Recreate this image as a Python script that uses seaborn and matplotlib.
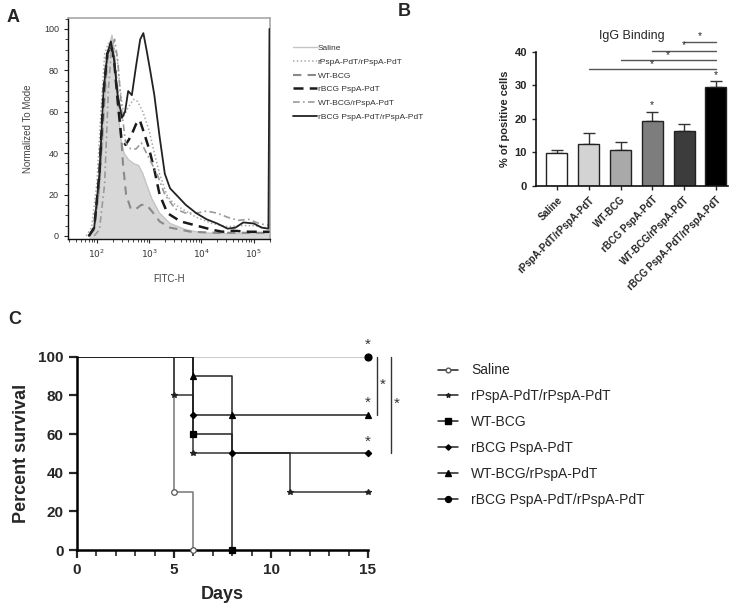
import numpy as np
import pandas as pd
import matplotlib
matplotlib.use("Agg")
import matplotlib.pyplot as plt
from matplotlib.lines import Line2D
from matplotlib.ticker import MultipleLocator
import seaborn as sns

sns.set_theme(style="ticks")
plt.rcParams['font.family'] = ['Liberation Sans', 'DejaVu Sans']

# ---------------- Panel A data (log10 FITC-H, % of mode) ----------------
a_groups = ["Saline", "rPspA-PdT/rPspA-PdT", "WT-BCG", "rBCG PspA-PdT",
            "WT-BCG/rPspA-PdT", "rBCG PspA-PdT/rPspA-PdT"]
saline_x = [1.85, 1.95, 2.05, 2.12, 2.18, 2.24, 2.29, 2.33, 2.38, 2.45, 2.52, 2.6, 2.7, 2.8, 2.88, 2.95, 3.05, 3.2, 3.4, 3.7, 4.0, 4.5, 5.0, 5.3]
saline_y = [0, 3, 20, 45, 75, 92, 97, 90, 70, 48, 40, 37, 35, 34, 30, 25, 18, 11, 6, 3, 1.5, 1, 1, 1]
rpspa_x = [1.8, 1.9, 2.0, 2.08, 2.15, 2.22, 2.3, 2.38, 2.45, 2.52, 2.6, 2.7, 2.78, 2.88, 3.0, 3.1, 3.2, 3.35, 3.5, 3.7, 3.9, 4.2, 4.5, 4.8, 5.0, 5.2, 5.3]
rpspa_y = [0, 4, 25, 60, 88, 93, 92, 88, 70, 58, 62, 66, 65, 60, 51, 40, 30, 19, 15, 12, 9, 6, 4.5, 5, 5, 4, 4]
wtbcg_x = [1.85, 1.95, 2.05, 2.13, 2.2, 2.27, 2.32, 2.38, 2.45, 2.5, 2.56, 2.65, 2.75, 2.85, 2.95, 3.05, 3.2, 3.4, 3.8, 4.3, 5.3]
wtbcg_y = [0, 3, 25, 60, 85, 92, 90, 75, 55, 35, 20, 13, 13, 15, 15, 12, 7, 4, 2, 1.5, 1.5]
rbcg_x = [1.85, 1.95, 2.05, 2.13, 2.2, 2.27, 2.33, 2.4, 2.47, 2.55, 2.65, 2.75, 2.82, 2.9, 3.0, 3.1, 3.2, 3.35, 3.6, 3.9, 4.2, 4.4, 4.6, 4.9, 5.3]
rbcg_y = [0, 4, 30, 70, 88, 92, 85, 65, 47, 44, 48, 54, 56, 50, 42, 32, 20, 11, 7, 5, 3, 2, 2.5, 2, 2]
wtr_x = [1.95, 2.05, 2.15, 2.22, 2.28, 2.34, 2.4, 2.47, 2.55, 2.65, 2.75, 2.85, 2.95, 3.05, 3.15, 3.3, 3.5, 3.7, 3.9, 4.1, 4.3, 4.5, 4.7, 4.9, 5.1, 5.3]
wtr_y = [0, 3, 25, 70, 90, 95, 85, 62, 45, 42, 42, 45, 40, 35, 30, 20, 13, 11, 11, 12, 11, 9, 7.5, 8, 6, 5]
rbr_x = [1.85, 1.95, 2.05, 2.13, 2.2, 2.27, 2.33, 2.4, 2.48, 2.54, 2.6, 2.67, 2.75, 2.83, 2.89, 2.95, 3.02, 3.1, 3.2, 3.3, 3.4, 3.55, 3.7, 3.9, 4.1, 4.3, 4.5, 4.65, 4.8, 5.0, 5.15, 5.28, 5.3]
rbr_y = [0, 4, 30, 70, 88, 94, 85, 68, 57, 60, 70, 68, 82, 95, 98, 90, 80, 68, 48, 30, 23, 19, 15, 11, 8, 6, 3.5, 4, 6.5, 6, 4, 3.5, 100]
a_xticks = [2, 3, 4, 5]

# ---------------- Panel B data ----------------
b_groups = ["Saline", "rPspA-PdT/rPspA-PdT", "WT-BCG", "rBCG PspA-PdT",
            "WT-BCG/rPspA-PdT", "rBCG PspA-PdT/rPspA-PdT"]
b_means = [9.8, 12.4, 10.6, 19.4, 16.3, 29.6]
b_sd = [0.8, 3.4, 2.3, 2.7, 2.2, 1.6]
b_sig_from = [1, 2, 3, 4]
b_sig_y = [34.7, 37.4, 40.2, 43.0]

# ---------------- Panel C data ----------------
c_groups = ["Saline", "rPspA-PdT/rPspA-PdT", "WT-BCG", "rBCG PspA-PdT",
            "WT-BCG/rPspA-PdT", "rBCG PspA-PdT/rPspA-PdT"]
c_saline_t = [0, 5, 6];          c_saline_s = [100, 30, 0]
c_rpspa_t = [0, 5, 6, 11, 15];   c_rpspa_s = [100, 80, 50, 30, 30]
c_wtbcg_t = [0, 6, 8];           c_wtbcg_s = [100, 60, 0]
c_rbcg_t = [0, 6, 8, 15];        c_rbcg_s = [100, 70, 50, 50]
c_wtr_t = [0, 6, 8, 15];         c_wtr_s = [100, 90, 70, 70]
c_rbr_t = [0, 15];               c_rbr_s = [100, 100]

fig = plt.figure(figsize=(7.42, 6.09), dpi=100)

# =============== Panel A ===============
axA = fig.add_axes([68/742, 1-239/609, 202/742, 221/609])
a_x = [saline_x, rpspa_x, wtbcg_x, rbcg_x, wtr_x, rbr_x]
a_y = [saline_y, rpspa_y, wtbcg_y, rbcg_y, wtr_y, rbr_y]
a_col = ["#c4c4c4", "#a8a8a8", "#8a8a8a", "#1a1a1a", "#9a9a9a", "#222222"]
a_ls = ["-", (0, (1, 1.5)), (0, (4, 3)), (0, (4, 2.5)), (0, (4, 2, 1, 2)), "-"]
a_lw = [1.0, 1.1, 1.5, 1.8, 1.2, 1.3]
axA.fill_between(10**np.array(saline_x), saline_y, -2, color="#d8d8d8", lw=0, zorder=1)
for g, xs, ys, c, ls, lw in zip(a_groups, a_x, a_y, a_col, a_ls, a_lw):
    df = pd.DataFrame({"x": 10**np.array(xs), "y": ys})
    sns.lineplot(data=df, x="x", y="y", ax=axA, color=c, lw=lw, linestyle=ls,
                 label=g, sort=False, zorder=3)
axA.set_xscale("log")
axA.set_xlim(10**1.45, 10**5.31)
axA.set_ylim(-1.5, 105.3)
axA.set_xticks([10**v for v in a_xticks])
axA.set_xticklabels([f"$10^{{{v}}}$" for v in a_xticks], fontsize=6.5, color="#333")
axA.yaxis.set_major_locator(MultipleLocator(20))
axA.yaxis.set_minor_locator(MultipleLocator(5))
axA.tick_params(axis="y", labelsize=6.5, labelcolor="#333", length=3, width=0.8)
axA.tick_params(axis="x", length=3, width=0.8)
axA.tick_params(which="minor", length=2, width=0.6)
axA.set_xlabel("FITC-H", fontsize=7, color="#444", labelpad=10)
axA.set_ylabel("Normalized To Mode", fontsize=7, color="#444", labelpad=8)
for s in ["top", "right"]:
    axA.spines[s].set_color("#aaaaaa")
for s in ["left", "bottom"]:
    axA.spines[s].set_color("#111111")
    axA.spines[s].set_linewidth(1.0)
legA = axA.legend(loc="upper left", bbox_to_anchor=(285/742, 1-37/609),
                  bbox_transform=fig.transFigure, frameon=False, fontsize=6,
                  handlelength=2.9, handletextpad=0.1, labelspacing=0.7)
for t in legA.get_texts():
    t.set_color("#333")

# =============== Panel B ===============
axB = fig.add_axes([536/742, 1-185.7/609, 192/742, 134/609])
b_colors = ["#ffffff", "#d3d3d3", "#a9a9a9", "#7d7d7d", "#3c3c3c", "#000000"]
dfB = pd.DataFrame({"group": b_groups, "val": b_means})
sns.barplot(data=dfB, x="group", y="val", hue="group", palette=b_colors,
            order=b_groups, hue_order=b_groups, legend=False, width=0.66,
            edgecolor="#222222", linewidth=1.0, ax=axB, errorbar=None, zorder=2)
axB.errorbar(np.arange(len(b_means)), b_means, yerr=[np.zeros(6), b_sd],
             fmt="none", ecolor="#333333", elinewidth=1.0, capsize=4, capthick=1.0, zorder=1)
axB.set_xlim(-0.66, 5.38)
axB.set_ylim(0, 40)
axB.set_yticks([0, 10, 20, 30, 40])
axB.tick_params(axis="y", labelsize=8, length=3, width=1)
axB.tick_params(axis="x", length=3, width=1)
for lab in axB.get_yticklabels():
    lab.set_fontweight("bold")
axB.set_xticks(range(6))
axB.set_xticklabels(b_groups, rotation=45, ha="right", rotation_mode="anchor",
                    fontsize=7, fontweight="bold")
axB.set_xlabel("")
axB.set_ylabel("% of positive cells", fontsize=8, fontweight="bold", labelpad=3)
axB.set_title("IgG Binding", fontsize=9, pad=9)
for s in ["top", "right"]:
    axB.spines[s].set_visible(False)
for s in ["left", "bottom"]:
    axB.spines[s].set_linewidth(1.2)
    axB.spines[s].set_color("#111")
for i0, yv in zip(b_sig_from, b_sig_y):
    axB.plot([i0, 5], [yv, yv], color="#555", lw=1.0, clip_on=False)
    axB.text((i0+5)/2, yv+0.2, "*", ha="center", va="bottom", fontsize=7.5, clip_on=False)
axB.text(3, b_means[3]+b_sd[3]+0.5, "*", ha="center", va="bottom", fontsize=7.5)
axB.text(5, b_means[5]+b_sd[5]+0.3, "*", ha="center", va="bottom", fontsize=7.5)

# =============== Panel C ===============
axC = fig.add_axes([77/742, 1-550/609, 291/742, 193.3/609])
c_t = [c_saline_t, c_rpspa_t, c_wtbcg_t, c_rbcg_t, c_wtr_t, c_rbr_t]
c_s = [c_saline_s, c_rpspa_s, c_wtbcg_s, c_rbcg_s, c_wtr_s, c_rbr_s]
c_col = ["#777777", "#333333", "#222222", "#222222", "#222222", "#bbbbbb"]
c_mk = ["o", "*", "s", "D", "^", "o"]
c_ms = [4, 4, 4.5, 3.2, 4.5, 5]
c_mfc = ["white", "#222", "#000", "#000", "#000", "#000"]
c_mec = ["#555", "#222", "#000", "#000", "#000", "#000"]
order_draw = [5, 0, 1, 2, 3, 4]
for i in order_draw:
    df = pd.DataFrame({"t": c_t[i], "s": c_s[i]})
    sns.lineplot(data=df, x="t", y="s", ax=axC, color=c_col[i], lw=1.1,
                 drawstyle="steps-post", sort=False, zorder=2)
for i in order_draw:
    axC.plot(c_t[i][1:], c_s[i][1:], linestyle="none", marker=c_mk[i], ms=c_ms[i],
             mfc=c_mfc[i], mec=c_mec[i], mew=0.9, clip_on=False, zorder=4)
axC.set_xlim(0, 15)
axC.set_ylim(0, 100)
axC.set_xticks([0, 5, 10, 15])
axC.xaxis.set_minor_locator(MultipleLocator(1))
axC.set_yticks([0, 20, 40, 60, 80, 100])
axC.tick_params(axis="both", labelsize=11, length=6, width=1.6)
axC.tick_params(which="minor", length=4, width=1.2)
for lab in axC.get_xticklabels() + axC.get_yticklabels():
    lab.set_fontweight("bold")
axC.set_xlabel("Days", fontsize=13, fontweight="bold", labelpad=6)
axC.set_ylabel("Percent survival", fontsize=13, fontweight="bold", labelpad=6)
for s in ["top", "right"]:
    axC.spines[s].set_visible(False)
for s in ["left", "bottom"]:
    axC.spines[s].set_linewidth(1.8)
    axC.spines[s].set_color("#000")
for yv in [100, 70, 50]:
    axC.text(15, yv+2.5, "*", ha="center", va="bottom", fontsize=11, color="#333", clip_on=False)
axC.plot([15.45, 15.45], [100, 70], color="#333", lw=1.0, clip_on=False)
axC.text(15.78, 82, "*", ha="center", va="bottom", fontsize=11, color="#333", clip_on=False)
axC.plot([16.17, 16.17], [100, 50], color="#333", lw=1.0, clip_on=False)
axC.text(16.5, 72, "*", ha="center", va="bottom", fontsize=11, color="#333", clip_on=False)

handles = [Line2D([0], [0], color="#222", lw=1.1, marker=c_mk[i], ms=c_ms[i]*0.85,
                  mfc=c_mfc[i], mec=c_mec[i]) for i in range(6)]
fig.legend(handles, c_groups, loc="upper left", bbox_to_anchor=(425/742, 1-351/609),
           frameon=False, fontsize=10, handlelength=1.5, handletextpad=0.9,
           labelspacing=0.85)

# Panel letters
fig.text(7/742, 1-17/609, "A", fontsize=13, fontweight="bold", va="center")
fig.text(398/742, 1-12/609, "B", fontsize=13, fontweight="bold", va="center")
fig.text(8/742, 1-320/609, "C", fontsize=13, fontweight="bold", va="center")

fig.savefig("out.png", dpi=100)
